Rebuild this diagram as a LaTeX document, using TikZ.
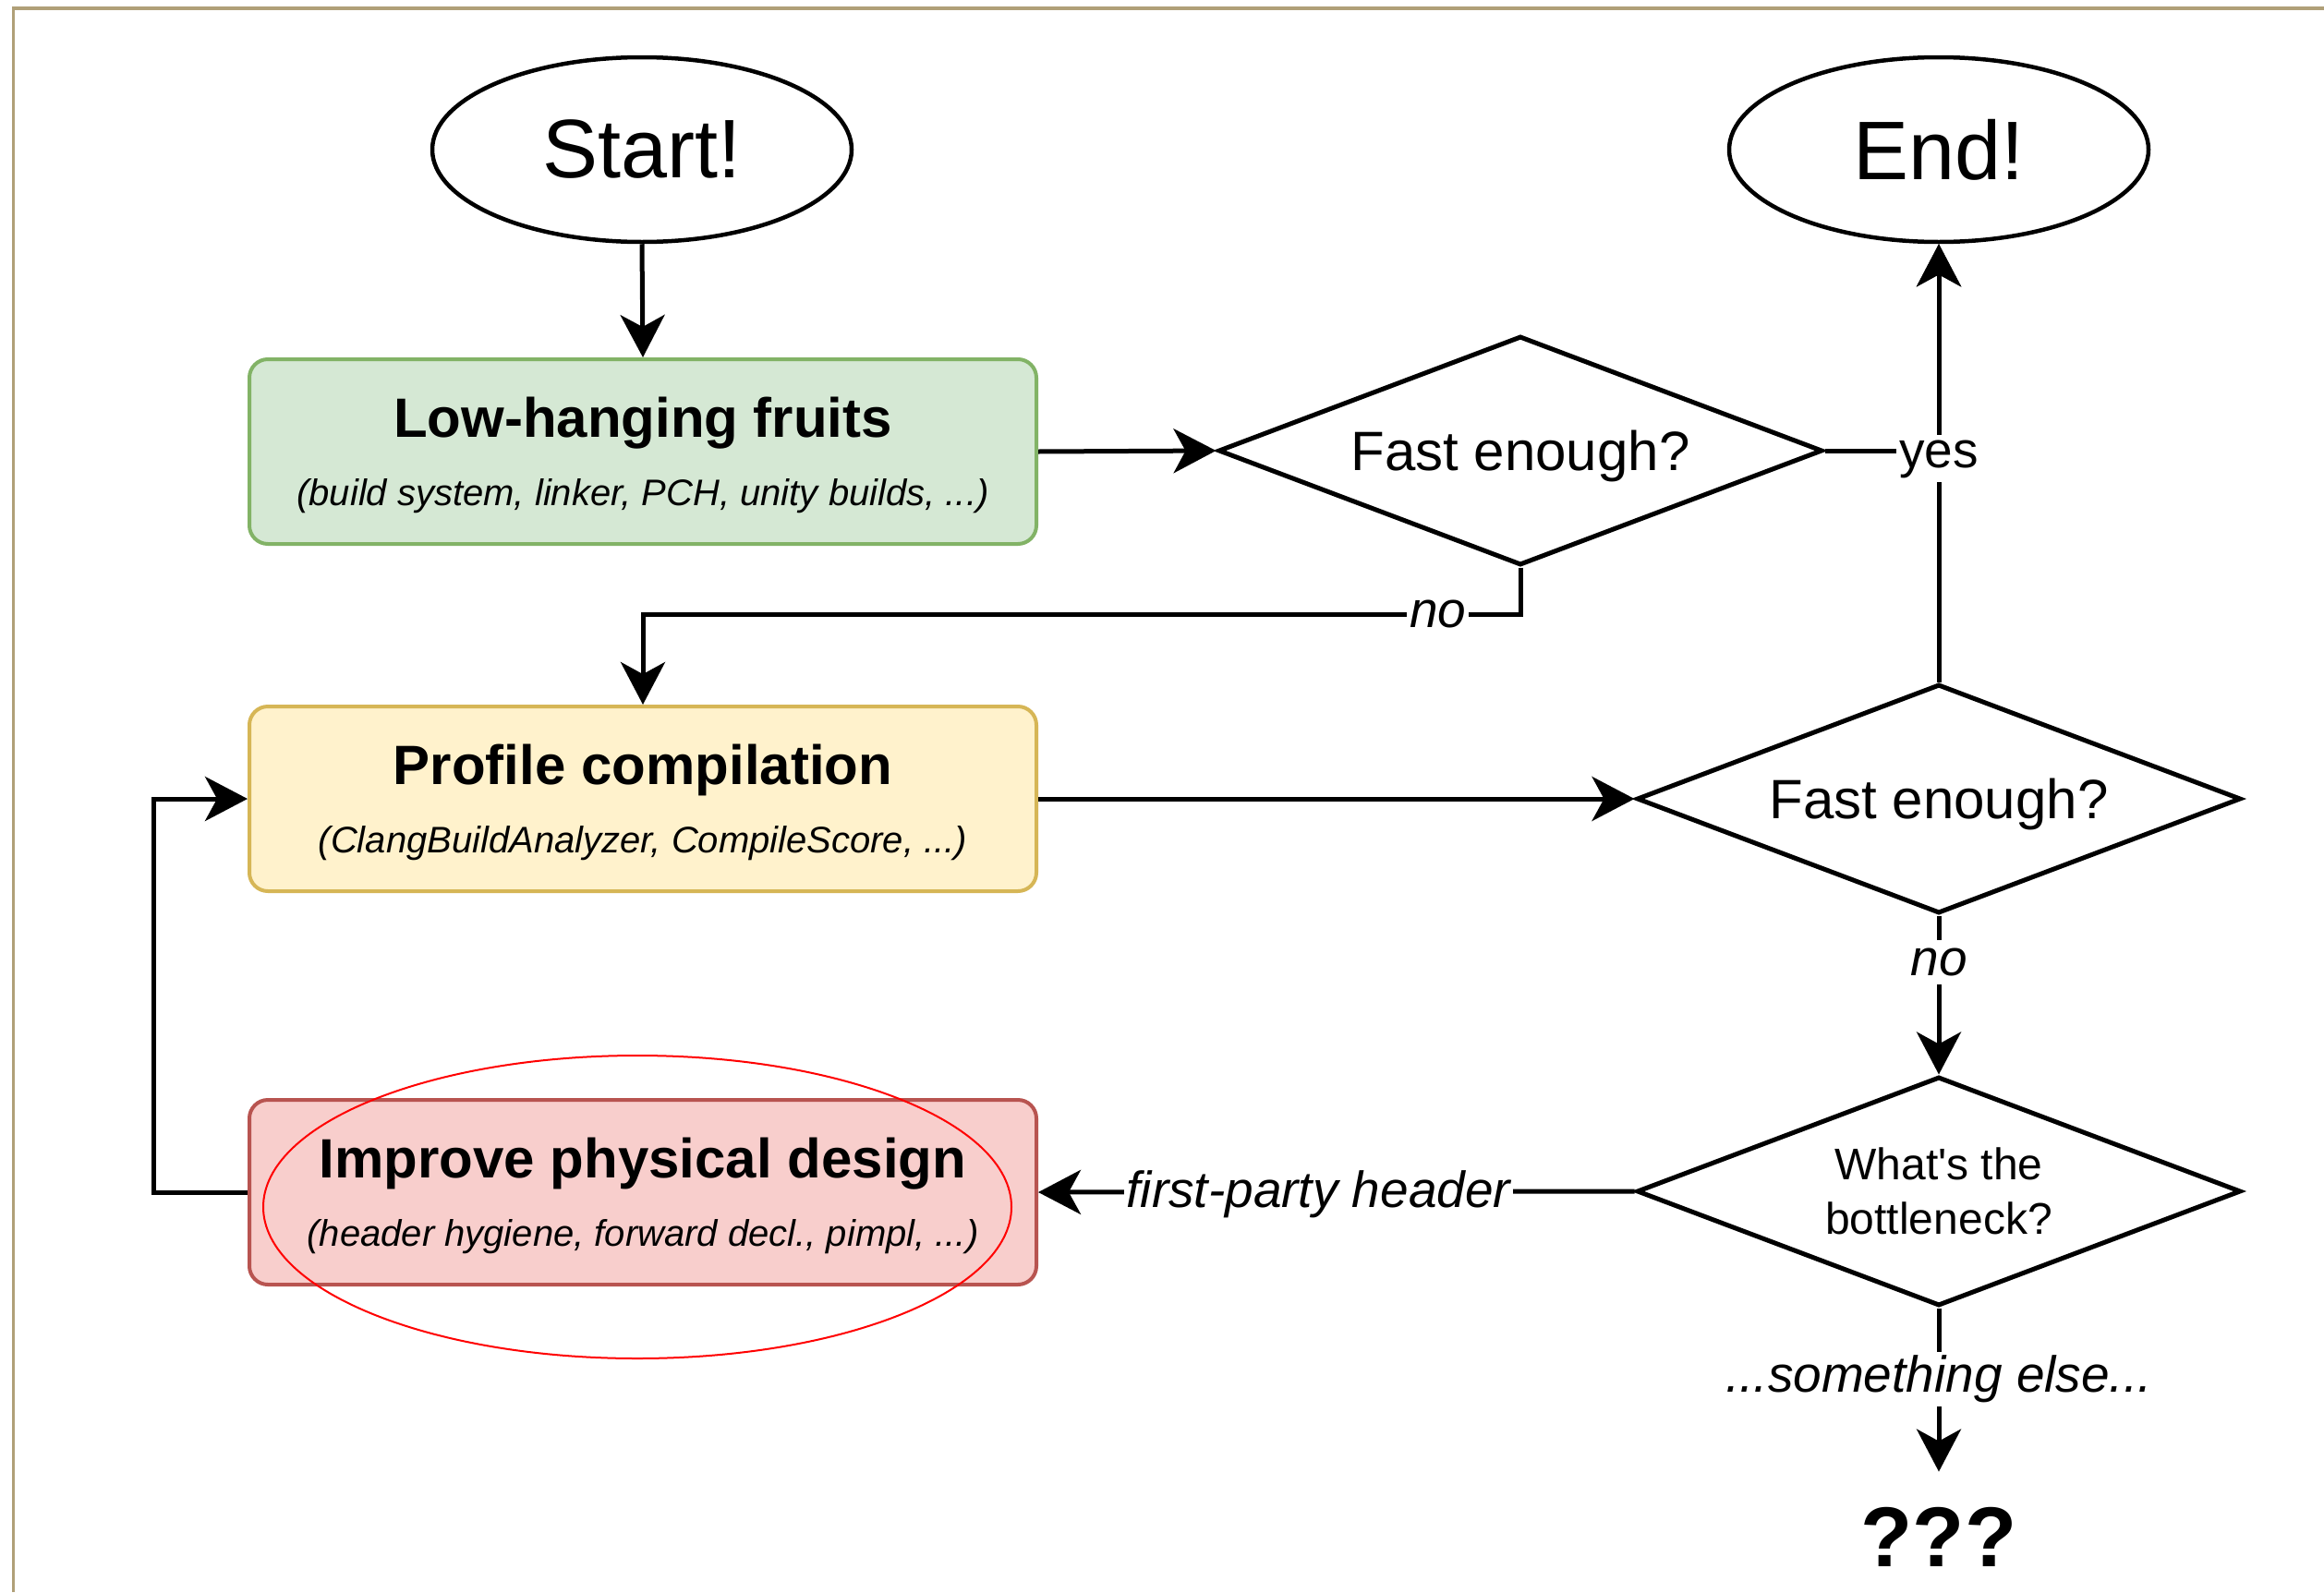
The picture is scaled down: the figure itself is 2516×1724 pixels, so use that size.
\documentclass[tikz,border=0pt]{standalone}
\usepackage{fontspec}
\setmainfont{Liberation Sans}
% same family without the TeX quote mapping, for a straight apostrophe
\newfontfamily\rawsans{Liberation Sans}
\usetikzlibrary{shapes.geometric,arrows.meta,calc}
\definecolor{framecol}{HTML}{B0A078}
\definecolor{greenfill}{HTML}{D5E8D4}
\definecolor{greenline}{HTML}{82B366}
\definecolor{yellowfill}{HTML}{FFF2CC}
\definecolor{yellowline}{HTML}{D6B656}
\definecolor{redfill}{HTML}{F8CECC}
\definecolor{redline}{HTML}{B85450}
\begin{document}
\begin{tikzpicture}[x=1pt,y=-1pt,
  terminal/.style={ellipse, draw, line width=4.5pt, minimum width=454pt, minimum height=200pt, inner sep=0pt, font=\fontsize{90}{108}\selectfont},
  stepbox/.style={draw, rounded corners=20pt, minimum width=852pt, minimum height=200pt, line width=4pt},
  boxtitle/.style={anchor=base, inner sep=0pt, font=\bfseries\fontsize{60}{72}\selectfont},
  boxnote/.style={anchor=base, inner sep=0pt, font=\itshape\fontsize{40}{48}\selectfont},
  decision/.style={diamond, draw, line width=5pt, shape aspect=2.637, minimum width=654pt, minimum height=248pt, inner sep=0pt, font=\fontsize{60}{72}\selectfont},
  lbl/.style={fill=white, anchor=base, inner xsep=3pt, inner ysep=5pt, font=\itshape\fontsize{55}{66}\selectfont},
  flow/.style={-{Stealth[length=46pt,width=48pt,inset=13pt]}, line width=5pt}]
\useasboundingbox (0,0) rectangle (2516,1724);

% frame
\draw[framecol, line width=3.5pt] (14.5,1724) -- (14.5,9) -- (2516,9);

% terminals
\node[terminal] (start) at (695,162) {Start!};
\node[terminal] (end) at (2099,162) {End!};

% process steps
\node[stepbox, fill=greenfill, draw=greenline] (low) at (696,489) {};
\node[boxtitle] (lowT) at ($(low.center)+(0,-16)$) {Low-hanging fruits};
\node[boxnote] (lowN) at ($(low.center)+(0,58)$) {(build system, linker, PCH, unity builds, ...)};

\node[stepbox, fill=yellowfill, draw=yellowline] (prof) at (696,865) {};
\node[boxtitle] (profT) at ($(prof.center)+(0,-16)$) {Profile compilation};
\node[boxnote] (profN) at ($(prof.center)+(0,58)$) {(ClangBuildAnalyzer, CompileScore, ...)};

\node[stepbox, fill=redfill, draw=redline] (imp) at (696,1291) {};
\node[boxtitle] (impT) at ($(imp.center)+(0,-16)$) {Improve physical design};
\node[boxnote] (impN) at ($(imp.center)+(0,58)$) {(header hygiene, forward decl., pimpl, ...)};

% decisions
\node[decision, text depth=0pt] (d1) at (1646,488) {Fast enough?};
\node[decision, text depth=0pt] (d2) at (2099,865) {Fast enough?};
\node[decision, font=\rawsans\fontsize{48}{59}\selectfont, align=center] (d3) at (2099,1290) {What's the\\bottleneck?};

% unknown outcome
\node[anchor=base, inner xsep=0pt, inner ysep=38pt, font=\bfseries\fontsize{92}{110}\selectfont] (q) at (2099,1696) {???};

% connectors
\draw[flow] (start.south) -- (low.north);
\draw[flow] (low.east) -- (d1.west);
\draw[flow] (d2.north) -- (end.south);
\draw[flow] (d1.east) -| (end.south);
\node[lbl, font=\fontsize{55}{66}\selectfont, yshift=-18pt] (yes) at (end.south |- d1.east) {yes};

\coordinate (nobend) at ($(d1.south)+(0,51)$);
\draw[flow] (d1.south) -- (nobend) -| node[lbl, pos=0.047, yshift=-14pt] (no1) {no} (prof.north);

\draw[flow] (prof.east) -- (d2.west);
\draw[flow] (d2.south) -- node[lbl, pos=0.38, inner ysep=9pt] (no2) {no} (d3.north);
\draw[flow] (d3.west) -- node[lbl, pos=0.53, yshift=-17pt] (fp) {first-party header} (imp.east);
\draw[flow] (imp.west) -- ++(-102,0) |- (prof.west);
\draw[flow] (d3.south) -- node[lbl, pos=0.514, inner ysep=4pt] (else) {...something else...} (q.north);

% highlight
\node[ellipse, draw=red, line width=2pt, minimum width=810pt, minimum height=328pt] (focus) at (690,1307) {};
\end{tikzpicture}
\end{document}
